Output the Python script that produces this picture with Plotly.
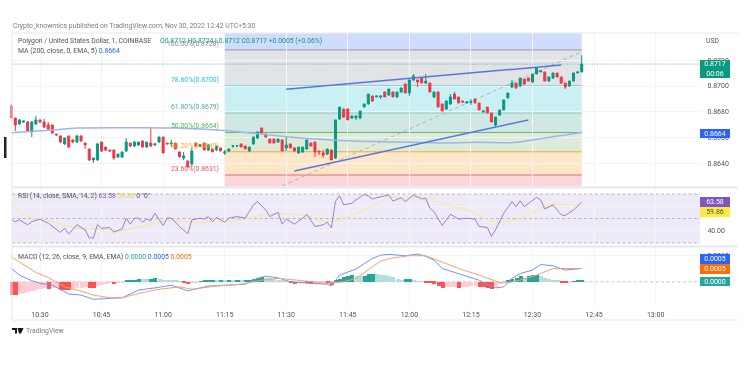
import pandas as pd
import plotly.graph_objects as go

opens = [.86845,.86752,.86706,.86721,.86721,.86644,.86706,.86737,.86721,.86698,.86698,.86628,.86613,.86551,.86613,.86582,.86566,.86613,.86558,.86512,
.86427,.86427,.86566,.86527,.86504,.86504,.86450,.86450,.86496,.86558,.86535,.86543,.86574,.86527,.86558,.86543,.86566,.86605,.86558,.86551,
.86558,.86489,.86442,.86419,.86396,.86558,.86535,.86558,.86504,.86512,.86504,.86520,.86481,.86496,.86535,.86535,.86551,.86535,.86496,.86551,
.86597,.86675,.86628,.86589,.86589,.86566,.86582,.86520,.86551,.86520,.86481,.86489,.86512,.86558,.86566,.86496,.86481,.86473,.86504,.86442,
.86744,.86822,.86822,.86752,.86752,.86752,.86837,.86861,.86923,.86915,.86915,.86954,.86930,.86954,.86915,.86954,.87016,.86946,.87047,.87047,
.87062,.87023,.87023,.86915,.86954,.86861,.86822,.86861,.86938,.86915,.86884,.86868,.86876,.86899,.86868,.86799,.86837,.86791,.86698,.86775,
.86814,.86907,.86992,.87023,.87000,.87054,.87062,.87031,.87093,.87109,.87109,.87039,.87062,.87101,.87070,.87023,.87000,.87039,.87101,.87109]
highs = [.86861,.86752,.86744,.86729,.86729,.86729,.86768,.86737,.86744,.86721,.86698,.86628,.86613,.86597,.86613,.86589,.86620,.86613,.86558,.86512,
.86442,.86558,.86566,.86527,.86504,.86504,.86473,.86489,.86597,.86558,.86574,.86566,.86574,.86566,.86675,.86551,.86605,.86605,.86558,.86582,
.86558,.86489,.86489,.86419,.86527,.86558,.86551,.86558,.86551,.86512,.86535,.86520,.86504,.86512,.86543,.86535,.86551,.86535,.86527,.86605,
.86644,.86675,.86628,.86589,.86589,.86589,.86582,.86605,.86551,.86520,.86527,.86527,.86582,.86558,.86566,.86496,.86504,.86512,.86504,.86737,
.86837,.86822,.86822,.86768,.86768,.86806,.86861,.86938,.86923,.86923,.86923,.86954,.86977,.86954,.86954,.86985,.87016,.87047,.87093,.87047,
.87062,.87093,.87023,.86954,.86954,.86861,.86884,.86938,.86954,.86915,.86884,.86884,.86899,.86899,.86868,.86814,.86837,.86791,.86760,.86814,
.86892,.86946,.87047,.87023,.87062,.87054,.87062,.87093,.87140,.87124,.87109,.87070,.87101,.87101,.87070,.87023,.87039,.87101,.87109,.87240]
lows = [.86752,.86651,.86698,.86713,.86651,.86605,.86698,.86713,.86675,.86659,.86628,.86613,.86558,.86543,.86520,.86558,.86558,.86566,.86512,.86419,
.86403,.86419,.86489,.86496,.86496,.86427,.86442,.86442,.86489,.86527,.86527,.86535,.86520,.86520,.86527,.86535,.86558,.86481,.86551,.86527,
.86512,.86450,.86427,.86372,.86372,.86527,.86527,.86504,.86496,.86489,.86496,.86496,.86465,.86489,.86520,.86527,.86527,.86512,.86489,.86543,
.86589,.86628,.86597,.86558,.86558,.86558,.86496,.86496,.86520,.86496,.86473,.86481,.86504,.86535,.86450,.86465,.86442,.86465,.86427,.86434,
.86737,.86752,.86737,.86744,.86737,.86744,.86837,.86853,.86876,.86915,.86899,.86915,.86923,.86915,.86907,.86946,.86946,.86923,.87039,.86992,
.87023,.87016,.86954,.86907,.86837,.86806,.86814,.86853,.86899,.86868,.86868,.86868,.86853,.86868,.86814,.86791,.86791,.86721,.86682,.86768,
.86814,.86907,.86985,.86977,.86992,.87008,.87039,.87023,.87093,.87109,.87039,.87031,.87054,.87070,.87016,.86977,.86992,.87031,.87101,.87109]
closes = [.86752,.86698,.86737,.86729,.86651,.86721,.86737,.86721,.86682,.86667,.86636,.86620,.86566,.86597,.86527,.86566,.86613,.86574,.86543,.86427,
.86442,.86551,.86496,.86504,.86496,.86442,.86473,.86489,.86566,.86535,.86566,.86566,.86527,.86566,.86535,.86551,.86605,.86481,.86551,.86558,
.86512,.86450,.86458,.86372,.86496,.86535,.86543,.86504,.86543,.86489,.86535,.86496,.86489,.86512,.86537,.86537,.86527,.86512,.86527,.86605,
.86644,.86636,.86605,.86558,.86558,.86589,.86496,.86543,.86520,.86496,.86527,.86527,.86582,.86535,.86489,.86489,.86465,.86512,.86427,.86737,
.86837,.86760,.86737,.86768,.86768,.86806,.86861,.86938,.86884,.86923,.86923,.86915,.86977,.86915,.86954,.86985,.86946,.87047,.87078,.87031,
.87023,.87039,.86954,.86954,.86837,.86806,.86884,.86915,.86899,.86868,.86876,.86876,.86878,.86868,.86814,.86806,.86791,.86721,.86760,.86814,
.86892,.86946,.87023,.86985,.87062,.87016,.87039,.87093,.87140,.87116,.87039,.87070,.87101,.87070,.87023,.86992,.87039,.87101,.87109,.87170]

ma_idx = [0,10,16,30,40,52,59,67,75,83,91,108,114,122,130,139]
ma_val = [.86638,.86659,.86674,.86677,.86674,.86655,.86633,.86607,.86587,.86574,.86568,.86558,.86564,.86561,.86597,.86640]

rsi_idx = [0,1,2,4,5,7,9,10,12,13,14,16,18,19,20,21,22,24,25,27,28,29,30,31,32,33,34,35,37,38,39,41,43,44,46,47,48,49,50,52,53,55,57,59,60,62,63,65,66,67,69,71,72,74,76,77,78,79,80,81,83,84,86,87,88,89,92,93,95,96,98,100,101,102,103,105,107,109,111,113,114,116,117,118,120,122,123,124,125,128,129,130,132,134,135,137,139]
rsi_val = [48.9,47.5,48.9,44.9,47.5,49.4,46.2,43.5,38.6,42.1,37.3,44.9,40.8,34.1,34.1,44.9,42.1,42.6,38.9,41.6,50.3,45.4,50.3,50.3,47.0,49.5,48.2,54.3,44.3,50.3,50.3,43.5,37.6,48.9,50.3,49.5,51.6,47.5,50.8,47.0,50.3,51.6,50.3,61.1,63.8,57.0,51.6,55.1,45.4,49.5,45.4,50.3,53.5,43.5,44.9,47.0,42.4,64.1,68.6,61.1,62.5,65.2,69.7,68.4,66.0,67.0,69.2,64.3,67.0,63.8,69.2,66.0,66.5,58.4,55.7,44.3,53.5,49.5,50.3,49.5,43.5,42.7,35.4,40.8,54.3,63.8,59.7,64.6,59.7,67.3,65.1,57.9,61.1,53.0,52.5,57.0,63.58]
rsi_ma_idx = [0,2,5,9,13,18,22,26,30,34,38,44,50,54,58,62,68,72,75,79,83,87,92,96,101,106,112,118,120,125,131,134,139]
rsi_ma_val = [62.4,55.7,50.3,48.1,44.3,41.4,41.4,40.0,42.2,45.4,48.4,47.0,47.6,48.1,50.3,53.5,53.5,52.5,48.9,48.1,53.0,58.4,67.0,66.5,67.3,61.6,55.7,46.8,47.0,51.6,61.1,61.6,59.86]

macd_idx = [0,2,5,7,10,12,14,17,20,23,27,29,31,35,39,43,48,52,57,60,62,65,68,73,77,78,80,84,88,90,92,96,99,101,103,105,109,114,116,118,120,122,124,127,129,132,135,139]
macd_val = [.0005,.00025,.00004,-.00006,-.000125,-.00029,-.00046,-.0005,-.00066,-.00063,-.0006,-.00046,-.00031,-.00023,-.00013,-.00034,-.00016,-.00013,-.00009,.00013,.00021,.00015,0,-.00006,-.00009,-.00016,.00025,.00048,.00088,.001,.00103,.00098,.00104,.00096,.00081,.0005,.00031,.00006,-.00009,-.00023,-.00019,.00013,.00031,.00044,.00065,.0006,.00044,.0005]
signal_idx = [0,3,6,9,13,17,20,24,27,31,36,41,44,50,56,61,65,71,77,81,84,88,90,93,97,101,104,109,114,119,121,124,128,132,135,139]
signal_val = [.00094,.00063,.00035,.00016,-.00019,-.00035,-.0005,-.0006,-.0006,-.00044,-.00028,-.00019,-.00028,-.00016,-.00009,.00006,.00013,.00004,-.00006,0,.00013,.00056,.00078,.0009,.00098,.00098,.00081,.0005,.00025,-.00003,-.00004,.00006,.00025,.0005,.0005,.0005]
hist_val = [-.00048,-.0005,-.00046,-.00042,-.00038,-.00034,-.0003,-.00027,-.00024,-.00026,-.00024,-.00023,-.00029,-.0003,-.00032,-.00028,-.00025,-.00022,-.0002,-.00022,
-.00024,-.00017,-.00012,-.00009,-.00006,-.0001,-.00006,-.00003,.00003,.00005,.00008,.00012,.0001,.00009,.00012,.00014,.0001,.00008,.00006,.00005,
.00003,.00001,-.00002,-.0001,-.00006,-.00002,.00001,.00003,.00003,.00005,.00003,.00004,.00003,.00004,.00003,.00004,.00003,.00005,.00008,.00012,
.00015,.00018,.00016,.00014,.00011,.00008,.00004,.00002,-.00003,-.00008,-.00005,-.00003,-.00005,-.00007,-.00006,-.00005,-.00004,-.00005,-.00012,.00005,
.00012,.00018,.00022,.00024,.00022,.0002,.00022,.0003,.0003,.00028,.00026,.00024,.0002,.00017,.00012,.00008,.00009,.0001,.00006,.00002,
.00001,-.00001,-.00005,-.00007,-.00016,-.00025,-.00021,-.0002,-.00019,-.00023,-.0002,-.00018,-.00016,-.00014,-.00018,-.0002,-.00024,-.00026,-.00018,-.00008,
-.00003,.00004,.0001,.00013,.0002,.00016,.00022,.00024,.00026,.00022,.00016,.00012,.00008,.00004,-.00001,-.00006,-.00004,.00001,.00003,.00004]

fib_labels = ["100.00%(0.8728)","78.60%(0.8700)","61.80%(0.8679)","50.00%(0.8664)","38.20%(0.8649)","23.60%(0.8631)"]
fib_prices = [.8728,.8700,.8679,.8664,.8649,.8631]
fib_lines = ["#9598a1","#22c4d8","#8fc9c0","#66b56a","#f5a340","#f0666f"]
fib_fills = ["#e2e3e6","#c9f1f4","#cfe8e3","#dcecd8","#ffe6c6","#fad6da"]
fib_top_fill = "#cfdcfb"
fib_text = ["#8a8d96","#22c4d8","#4fa89a","#5cb060","#ffa726","#f2505a"]
price_ticks = [.8640,.8660,.8680,.8700,.8720]
time_ticks = ["10:30","10:45","11:00","11:15","11:30","11:45","12:00","12:15","12:30","12:45","13:00"]

W, H = 750, 375
DAY = "2022-11-30 "
X_L, X_D, X_R = 12, 10.5, 700
GREEN, RED = "#089981", "#f23645"
times = pd.date_range(DAY + "10:23", periods=len(opens), freq="min")
def t(i):
    return times[0] + pd.Timedelta(minutes=i)
t_at = lambda s: pd.Timestamp(DAY + s)
at_px = lambda x: t_at("10:30") + pd.Timedelta(minutes=(x - 40) / 4.104)
xrange_ = [at_px(X_D), at_px(X_R)]
x_vis = at_px(X_L)
px = lambda x: x / W
py = lambda y: 1 - y / H

fig = go.Figure()
fig.add_trace(go.Candlestick(x=times, open=opens, high=highs, low=lows, close=closes,
    increasing=dict(line=dict(color=GREEN, width=1), fillcolor=GREEN),
    decreasing=dict(line=dict(color=RED, width=1), fillcolor=RED),
    xaxis="x", yaxis="y", whiskerwidth=0))
fig.add_trace(go.Scatter(x=[t(i) for i in ma_idx], y=ma_val, mode="lines", line=dict(color="#9db3f3", width=1.5, shape="spline"), xaxis="x", yaxis="y"))
fig.add_trace(go.Scatter(x=[t(i) for i in rsi_ma_idx], y=rsi_ma_val, mode="lines", line=dict(color="#f7e98a", width=1, shape="spline"), xaxis="x2", yaxis="y2"))
fig.add_trace(go.Scatter(x=[t(i) for i in rsi_idx], y=rsi_val, mode="lines", line=dict(color="#9a7fd0", width=1), xaxis="x2", yaxis="y2"))
cols = []
for i, v in enumerate(hist_val):
    prev = hist_val[i - 1] if i else v
    if v >= 0:
        cols.append("#26a69a" if v >= prev else "#b2dfdb")
    else:
        cols.append("#ff5252" if v <= prev else "#ffcdd2")
fig.add_trace(go.Bar(x=times, y=hist_val, marker=dict(color=cols, line_width=0), width=60000 * 0.98, xaxis="x3", yaxis="y3"))
fig.add_trace(go.Scatter(x=[t(i) for i in macd_idx], y=macd_val, mode="lines", line=dict(color="#6f93f7", width=1), xaxis="x3", yaxis="y3"))
fig.add_trace(go.Scatter(x=[t(i) for i in signal_idx], y=signal_val, mode="lines", line=dict(color="#f5a26a", width=1), xaxis="x3", yaxis="y3"))

shapes = []
x0, x1 = t(52), t(139)
edges = [.8741] + fib_prices + [.8622]
band_fills = [fib_top_fill] + fib_fills
for i, c in enumerate(band_fills):
    shapes.append(dict(type="rect", xref="x", yref="y", x0=x0, x1=x1, y0=edges[i], y1=edges[i + 1], fillcolor=c, line_width=0, layer="below"))
for p, c in zip(fib_prices, fib_lines):
    shapes.append(dict(type="line", xref="x", yref="y", x0=x0, x1=x1, y0=p, y1=p, line=dict(color=c, width=1), layer="below"))
shapes.append(dict(type="line", xref="x", yref="y", x0=t_at("11:30"), y0=.86974, x1=t_at("12:37"), y1=.87163, line=dict(color="#5578dc", width=1.5)))
shapes.append(dict(type="line", xref="x", yref="y", x0=t_at("11:32"), y0=.86341, x1=t_at("12:29"), y1=.86737, line=dict(color="#5578dc", width=1.5)))
shapes.append(dict(type="line", xref="x", yref="y", x0=t_at("11:29"), y0=.86225, x1=t_at("12:42"), y1=.87266, line=dict(color="#b0b2b8", width=1, dash="4px,3px"), layer="below"))
shapes.append(dict(type="line", xref="x", yref="y", x0=x_vis, x1=xrange_[1], y0=.8717, y1=.8717, line=dict(color="rgba(8,153,129,0.65)", width=1, dash="1px,1.5px")))
shapes.append(dict(type="rect", xref="x2", yref="y2", x0=x_vis, x1=xrange_[1], y0=30, y1=70, fillcolor="#efeaf8", line_width=0, layer="below"))
for v in [70, 50, 30]:
    shapes.append(dict(type="line", xref="x2", yref="y2", x0=x_vis, x1=xrange_[1], y0=v, y1=v, line=dict(color="#b5b7be", width=1, dash="3px,2.5px"), layer="below"))
shapes.append(dict(type="line", xref="x3", yref="y3", x0=x_vis, x1=xrange_[1], y0=0, y1=0, line=dict(color="#c4c6cc", width=1, dash="3px,2.5px"), layer="below"))
FR = "#e6e8ee"
for y in [33, 320]:
    shapes.append(dict(type="line", xref="paper", yref="paper", x0=px(X_L), x1=px(738), y0=py(y), y1=py(y), line=dict(color=FR, width=1)))
for y in [187.5, 246.5]:
    shapes.append(dict(type="line", xref="paper", yref="paper", x0=px(X_L), x1=px(738), y0=py(y), y1=py(y), line=dict(color=FR, width=2)))
shapes.append(dict(type="line", xref="paper", yref="paper", x0=px(X_L), x1=px(X_L), y0=py(33), y1=py(320), line=dict(color=FR, width=1)))
shapes.append(dict(type="rect", xref="paper", yref="paper", x0=px(4), x1=px(6.5), y0=py(158), y1=py(137), fillcolor="#222222", line_width=0))
shapes.append(dict(type="path", xref="paper", yref="paper", fillcolor="#131722", line_width=0,
    path=f"M {px(12)} {py(328)} L {px(17)} {py(328)} L {px(17)} {py(333.5)} L {px(15)} {py(333.5)} L {px(15)} {py(330)} L {px(12)} {py(330)} Z M {px(17.5)} {py(328)} L {px(23.5)} {py(328)} L {px(21)} {py(333.5)} L {px(19)} {py(333.5)} Z"))

FONT = "Roboto, Arial, sans-serif"
TXT = "#50535e"
FS = 6.85
def note(x, y, text, color=TXT, size=FS, xanchor="left", **kw):
    return dict(xref="paper", yref="paper", x=px(x), y=py(y), text=text, showarrow=False, xanchor=xanchor, yanchor="middle",
                font=dict(family=FONT, size=size, color=color), borderpad=0, **kw)
def tag(y0, y1, text, bg, color="#ffffff"):
    return dict(xref="paper", yref="paper", x=px(700), y=py((y0 + y1) / 2), text=text, showarrow=False, xanchor="left", yanchor="middle",
                width=30, height=y1 - y0, bgcolor=bg, align="center", valign="middle", borderpad=0, borderwidth=0,
                font=dict(family=FONT, size=7, color=color))

ann = [
    note(12, 26, "Crypto_knowmics published on TradingView.com, Nov 30, 2022 12:42 UTC+5:30", "#787b86"),
    note(17, 41, "Polygon / United States Dollar, 1, COINBASE"),
    note(159, 41, "O0.8712 H0.8724 L0.8712 C0.8717 +0.0005 (+0.06%)", GREEN),
    note(17, 51, "MA (200, close, 0, EMA, 5) <span style='color:#2962ff'>0.8664</span>"),
    note(17, 196, "RSI (14, close, SMA, 14, 2) <span style='color:#7e57c2'>63.58</span> <span style='color:#e8d44a'>59.86</span> 0 \"0\""),
    note(17, 257, "MACD (12, 26, close, 9, EMA, EMA) <span style='color:#26a69a'>0.0000</span> <span style='color:#2962ff'>0.0005</span> <span style='color:#ff6d00'>0.0005</span>"),
    note(25, 331, "TradingView", "#787b86"),
    note(705, 41, "USD"),
    tag(60, 78, "0.8717<br>00:06", GREEN),
    tag(129, 138, "0.8664", "#2962ff"),
    tag(197.5, 207, "63.58", "#7e57c2"),
    tag(207.5, 217, "59.86", "#ffeb3b", "#50535e"),
    tag(254, 264, "0.0005", "#2962ff"),
    tag(264, 274, "0.0005", "#ff6d00"),
    tag(277, 286, "0.0000", "#26a69a"),
]
for lab, p, c in zip(fib_labels, fib_prices, fib_text):
    ann.append(dict(xref="paper", yref="y", x=px(220), y=p, text=lab, showarrow=False, xanchor="right", yanchor="bottom", yshift=1,
                    font=dict(family=FONT, size=FS, color=c), borderpad=0))

GRID = "#f2f4f8"
xbase = dict(type="date", range=xrange_, tickvals=[t_at(s) for s in time_ticks], showgrid=True, gridcolor=GRID, gridwidth=1, zeroline=False, showline=False,
             rangeslider=dict(visible=False), domain=[px(X_D), px(X_R)], fixedrange=True)
ybase = dict(side="right", showgrid=True, gridcolor=GRID, zeroline=False, showline=False, ticks="outside", ticklen=5, tickcolor="rgba(0,0,0,0)",
             tickfont=dict(family=FONT, size=7, color=TXT), fixedrange=True)
fig.update_layout(
    width=W, height=H, margin=dict(l=0, r=0, t=0, b=0), paper_bgcolor="white", plot_bgcolor="white",
    showlegend=False, bargap=0, shapes=shapes, annotations=ann,
    xaxis=dict(xbase, anchor="y", showticklabels=False),
    xaxis2=dict(xbase, anchor="y2", matches="x", showticklabels=False),
    xaxis3=dict(xbase, anchor="y3", matches="x", showticklabels=True, tickformat="%H:%M", ticks="outside", ticklen=2, tickcolor="rgba(0,0,0,0)",
                tickfont=dict(family=FONT, size=7, color=TXT)),
    yaxis=dict(ybase, anchor="x", domain=[py(187), py(33)], range=[.86217, .87411], tickvals=price_ticks, tickformat=".4f"),
    yaxis2=dict(ybase, anchor="x2", domain=[py(245), py(190)], range=[28.4, 73.3], tickvals=[40, 60], tickformat=".2f"),
    yaxis3=dict(ybase, anchor="x3", domain=[py(306), py(248)], range=[-.00091, .00127], tickvals=[.001], tickformat=".4f"),
)
fig.write_html("out.html", config=dict(displayModeBar=False), post_script="document.body.style.margin='0';document.body.style.filter='blur(0.5px)';")
